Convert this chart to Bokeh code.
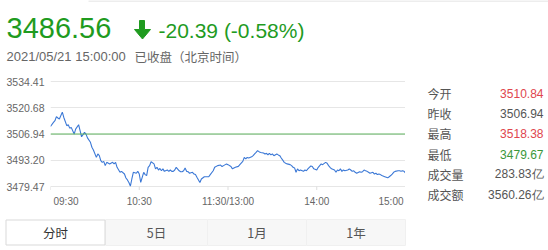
from bokeh.plotting import figure
from bokeh.layouts import column, row
from bokeh.models import Range1d, Span, FixedTicker, PrintfTickFormatter
from bokeh.core.properties import value
from bokeh.embed import file_html
from bokeh.resources import INLINE

# ---------------- data ----------------
minutes = [0, 2, 3, 4, 5, 6, 8, 9, 11, 12, 13, 14, 16, 17, 19, 20, 21, 22, 23, 24,
           25, 27, 28, 29, 31, 32, 33, 34, 35, 36, 37, 38, 40, 42, 43, 44, 45, 47, 48, 50,
           51, 52, 53, 54, 55, 56, 58, 59, 60, 61, 63, 64, 65, 66, 67, 68, 70, 71, 72, 73,
           74, 75, 76, 77, 79, 80, 81, 82, 83, 84, 85, 87, 88, 89, 90, 91, 92, 93, 94, 96,
           97, 98, 99, 101, 102, 104, 105, 107, 108, 110, 111, 113, 115, 116, 117, 119, 120, 122, 123, 125,
           127, 128, 130, 131, 132, 133, 134, 136, 137, 138, 139, 140, 141, 142, 144, 145, 146, 147, 148, 149,
           150, 151, 153, 154, 155, 156, 157, 158, 159, 160, 162, 163, 164, 165, 166, 167, 168, 169, 171, 172,
           173, 174, 175, 176, 177, 178, 180, 181, 183, 184, 186, 187, 188, 189, 190, 192, 193, 194, 195, 196,
           197, 198, 199, 201, 202, 203, 204, 205, 206, 207, 209, 210, 211, 212, 213, 214, 215, 216, 218, 219,
           220, 221, 222, 223, 224, 226, 227, 228, 229, 230, 231, 232, 233, 235, 236, 237, 238, 239, 240]
prices = [3510.84, 3513.0, 3513.9, 3516.0, 3515.3, 3514.8, 3518.38, 3515.6, 3511.3, 3511.8,
          3510.0, 3510.4, 3506.9, 3509.5, 3511.8, 3508.7, 3505.5, 3506.6, 3507.8, 3506.9,
          3504.9, 3502.6, 3500.0, 3498.6, 3494.7, 3496.5, 3495.6, 3493.0, 3492.1, 3492.6,
          3490.4, 3492.1, 3491.3, 3492.1, 3491.3, 3492.1, 3489.5, 3486.9, 3487.4, 3486.0,
          3483.9, 3482.9, 3481.6, 3479.67, 3483.4, 3486.9, 3486.4, 3487.4, 3486.0, 3481.6,
          3486.9, 3485.7, 3485.2, 3489.5, 3490.4, 3492.4, 3491.3, 3488.7, 3489.5, 3488.1,
          3488.9, 3487.7, 3488.7, 3487.4, 3488.1, 3487.4, 3488.1, 3487.4, 3487.4, 3488.1,
          3489.5, 3487.7, 3487.2, 3487.2, 3487.7, 3489.1, 3487.4, 3487.2, 3486.4, 3486.9,
          3486.0, 3485.7, 3484.3, 3481.6, 3483.4, 3484.6, 3484.6, 3484.6, 3485.7, 3487.7,
          3489.5, 3490.4, 3490.7, 3489.9, 3490.4, 3491.3, 3490.9, 3489.9, 3488.7, 3489.5,
          3490.0, 3490.9, 3492.6, 3494.7, 3493.9, 3494.7, 3494.4, 3495.0, 3495.6, 3496.5,
          3497.3, 3498.2, 3497.7, 3497.3, 3497.0, 3496.5, 3496.8, 3496.1, 3496.8, 3496.0,
          3496.5, 3495.6, 3496.5, 3496.0, 3495.6, 3494.4, 3493.3, 3492.1, 3491.6, 3491.3,
          3490.9, 3490.4, 3489.5, 3489.2, 3486.9, 3488.7, 3487.7, 3488.1, 3487.4, 3488.1,
          3487.7, 3488.7, 3489.5, 3490.2, 3489.9, 3488.7, 3488.1, 3489.5, 3491.3, 3490.9,
          3492.1, 3491.6, 3490.4, 3489.5, 3488.7, 3488.1, 3486.9, 3488.1, 3487.7, 3488.7,
          3487.4, 3488.1, 3487.7, 3488.1, 3488.7, 3488.1, 3487.4, 3487.7, 3486.9, 3486.4,
          3487.2, 3486.9, 3487.2, 3488.1, 3487.7, 3487.4, 3486.9, 3486.4, 3486.9, 3486.0,
          3486.4, 3485.7, 3486.0, 3485.7, 3485.2, 3484.6, 3484.3, 3484.0, 3484.6, 3485.2,
          3486.0, 3486.9, 3487.4, 3487.7, 3487.7, 3487.4, 3487.7, 3487.4, 3486.56]
prev_close = 3506.94
y_ticks = [3479.47, 3493.20, 3506.94, 3520.68, 3534.41]
x_ticks = [0, 60, 120, 180, 240]
x_tick_labels = ["09:30", "10:30", "11:30/13:00", "14:00", "15:00"]
last_price = "3486.56"
change_text = "-20.39 (-0.58%)"
timestamp = "2021/05/21 15:00:00"
status_text = "已收盘（北京时间）"
stat_names = ["今开", "昨收", "最高", "最低", "成交量", "成交额"]
stat_values = ["3510.84", "3506.94", "3518.38", "3479.67", "283.83亿", "3560.26亿"]
tab_names = ["分时", "5日", "1月", "1年"]

# ---------------- styles ----------------
GREEN = "#1f9b1f"
RED = "#e0464e"
stat_colors = [RED, "#555555", RED, "#3a973a", "#555555", "#555555"]
tab_colors = ["#333333", "#555555", "#555555", "#555555"]
NUM_FONT = value("Liberation Sans")
CJK_FONT = value("Noto Sans CJK SC")
W = 548


def canvas_fig(x0, x1, y0, y1):
    """A figure whose frame is its whole canvas, in page-pixel coordinates."""
    f = figure(width=x1 - x0, height=y1 - y0, output_backend="svg", toolbar_location=None,
               x_range=Range1d(x0, x1), y_range=Range1d(y1, y0),
               x_axis_location=None, y_axis_location=None,
               min_border=0, min_border_left=0, min_border_right=0,
               min_border_top=0, min_border_bottom=0)
    f.outline_line_color = None
    f.grid.visible = False
    f.background_fill_color = "white"
    f.border_fill_color = "white"
    return f


# ---------------- header ----------------
head = canvas_fig(0, W, 0, 70)
head.segment(x0=[88], y0=[0.5], x1=[W], y1=[0.5], line_color="#dcdcdc", line_width=1)
head.text(x=[6], y=[27.8], text=[last_price], text_font=NUM_FONT, text_font_size=value("29px"),
          text_color=GREEN, text_align="left", text_baseline="middle")
head.patch(x=[139, 144, 144, 150, 142, 134, 139], y=[20, 20, 29, 29, 38.5, 29, 29],
           fill_color=GREEN, line_color=GREEN)
head.text(x=[158], y=[29.8], text=[change_text], text_font=NUM_FONT, text_font_size=value("21px"),
          text_color=GREEN, text_align="left", text_baseline="middle")
head.text(x=[6], y=[55.8], text=[timestamp], text_font=NUM_FONT, text_font_size=value("13px"),
          text_color="#666666", text_align="left", text_baseline="middle")
head.text(x=[134], y=[55.8], text=[status_text], text_font=CJK_FONT, text_font_size=value("12.5px"),
          text_color="#666666", text_align="left", text_baseline="middle")

# ---------------- chart ----------------
FL, FR, TOP, BOT = 50, 405, 70, 212       # chart block in page px
G_TOP, G_BOT = 81, 186                    # page px of top / bottom gridline
upp = (y_ticks[-1] - y_ticks[0]) / (G_BOT - G_TOP)   # price units per pixel
chart = figure(width=FR, height=BOT - TOP, output_backend="svg", toolbar_location=None,
               x_range=Range1d(x_ticks[0], x_ticks[-1]),
               y_range=Range1d(y_ticks[0] - (BOT - G_BOT) * upp,
                               y_ticks[-1] + (G_TOP - (TOP + 10)) * upp),
               x_axis_location=None,
               min_border_left=FL, min_border_right=0,
               min_border_top=10, min_border_bottom=0)
chart.extra_y_ranges = {"px": Range1d(BOT, TOP + 10)}
chart.outline_line_color = None
chart.background_fill_color = "white"
chart.border_fill_color = "white"
chart.yaxis.ticker = FixedTicker(ticks=y_ticks)
chart.yaxis.formatter = PrintfTickFormatter(format="%.2f")
chart.yaxis.axis_line_color = None
chart.yaxis.major_tick_line_color = None
chart.yaxis.minor_tick_line_color = None
chart.yaxis.major_tick_out = 0
chart.yaxis.major_tick_in = 0
chart.yaxis.major_label_standoff = 6
chart.yaxis.major_label_text_font = "Liberation Sans"
chart.yaxis.major_label_text_font_size = "10.5px"
chart.yaxis.major_label_text_color = "#666666"
chart.xgrid.grid_line_color = None
chart.ygrid.ticker = FixedTicker(ticks=y_ticks)
chart.ygrid.grid_line_color = "#e6e6e6"
chart.add_layout(Span(location=prev_close, dimension="width", line_color="#5fb35f", line_width=1))
chart.line(minutes, prices, line_color="#3b78d6", line_width=1.1)

# x ticks and tick labels (time scale of the chart, page-px vertical scale)
chart.segment(x0=x_ticks, y0=[G_BOT] * len(x_ticks), x1=x_ticks, y1=[G_BOT + 3.5] * len(x_ticks),
              line_color="#dddddd", line_width=1, y_range_name="px")
aligns = ["left"] + ["center"] * (len(x_ticks) - 2) + ["right"]
offsets = [3] + [0] * (len(x_ticks) - 2) + [-2]
chart.text(x=x_ticks, y=[200.5] * len(x_ticks), text=x_tick_labels, x_offset=offsets,
           text_align=aligns, text_baseline="middle", text_font=NUM_FONT,
           text_font_size=value("10px"), text_color="#666666", y_range_name="px")

# ---------------- stats panel ----------------
stats = canvas_fig(FR, W, TOP, BOT)
ys = [83.5 + i * 21.9 for i in range(len(stat_names))]
stats.text(x=[427] * len(stat_names), y=ys, text=stat_names, text_font=CJK_FONT,
           text_font_size=value("12px"), text_color="#555555",
           text_align="left", text_baseline="middle")
stats.text(x=[543] * len(stat_values), y=ys, text=stat_values, text_font=NUM_FONT,
           text_font_size=value("12px"), text_color=stat_colors,
           text_align="right", text_baseline="middle")

# ---------------- tabs ----------------
tabs = canvas_fig(0, W, BOT, 250)
edges = [5, 105, 207, 306, 405]
tabs.quad(left=edges[1:-1], right=edges[2:], top=[219] * 3, bottom=[245] * 3,
          fill_color="#f7f7f7", line_color="#f0f0f0", line_width=1)
tabs.quad(left=[edges[0] + 0.5], right=[edges[1] - 0.5], top=[219.5], bottom=[244.5],
          fill_color="white", line_color="#d9d9d9", line_width=1)
centers = [(edges[i] + edges[i + 1]) / 2 for i in range(len(tab_names))]
tabs.text(x=centers, y=[232] * len(tab_names), text=tab_names, text_font=CJK_FONT,
          text_font_size=value("12.5px"), text_color=tab_colors,
          text_align="center", text_baseline="middle")

layout = column(head, row(chart, stats), tabs, spacing=0)
open("out.html", "w").write(file_html(layout, INLINE))
